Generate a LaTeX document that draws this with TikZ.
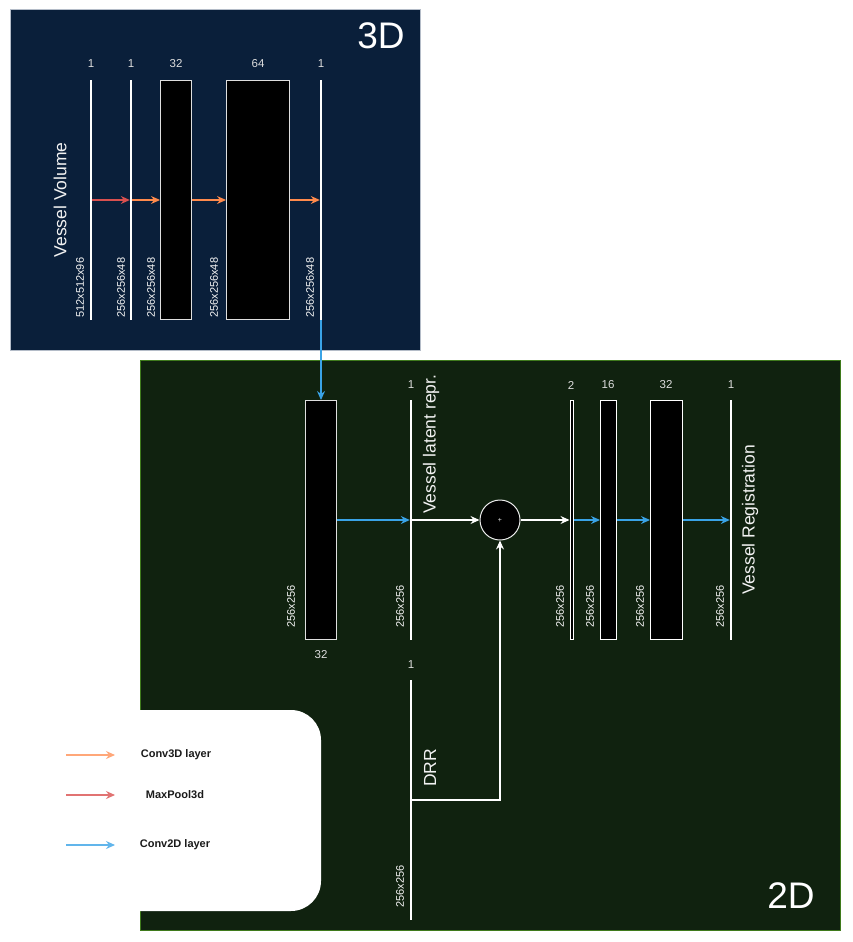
\documentclass[tikz,border=0pt]{standalone}
\usepackage{fontspec}
\setmainfont{Liberation Sans}
\usetikzlibrary{arrows.meta}
\definecolor{navy}{HTML}{0A1F3A}
\definecolor{forest}{HTML}{10220F}
\definecolor{forestedge}{HTML}{3F7A1C}
\definecolor{navyedge}{HTML}{B4BCC8}
\definecolor{convthree}{HTML}{FF8A4C}
\definecolor{pool}{HTML}{D9504F}
\definecolor{convtwo}{HTML}{3AA3E6}
\definecolor{numgray}{HTML}{DDDDDD}
\definecolor{legtext}{HTML}{1A1A1A}
\begin{document}
\begin{tikzpicture}[x=1pt,y=-1pt,
 thinlayer/.style={fill=white, draw=none, minimum width=2pt, minimum height=240pt, inner sep=0pt},
 blocklayer/.style={fill=black, draw=white!75!gray, line width=1pt, minimum height=239pt, inner sep=0pt},
 num/.style={font=\fontsize{11.5}{13}\selectfont, text=numgray, inner sep=0pt},
 dimlabel/.style={font=\fontsize{11}{13}\selectfont, text=white!92!gray, rotate=90, anchor=west, inner sep=0pt},
 titlelabel/.style={font=\fontsize{17.5}{20}\selectfont, text=white!90!gray, rotate=90, inner sep=0pt},
 biglabel/.style={font=\fontsize{37}{40}\selectfont, text=white, inner sep=0pt},
 legendlabel/.style={font=\fontsize{11}{13}\selectfont\bfseries, text=legtext, inner sep=0pt},
 tip/.style={-{Stealth[length=9pt,width=8pt,inset=3pt]}, line width=1.3pt},
]
\useasboundingbox (0,0) rectangle (852,942);
% panels
\draw[navyedge, fill=navy, line width=1pt] (10,10) rectangle (420,350);
\draw[forestedge, fill=forest, line width=1pt] (140,360) rectangle (840,930);
\fill[white, rounded corners=30pt] (20,710) rectangle (321,911);
\node[biglabel] (t3d) at (381,36) {3D};
\node[biglabel] (t2d) at (791,896) {2D};

% 3D encoder
\node[thinlayer] (l1) at (91,200) {};
\node[thinlayer] (l2) at (131,200) {};
\node[blocklayer, minimum width=31pt] (l3) at (176,200) {};
\node[blocklayer, minimum width=63pt] (l4) at (258,200) {};
\node[thinlayer] (l5) at (321,200) {};
\draw[tip, pool] (l1.east) -- (l2.west);
\draw[tip, convthree] (l2.east) -- (l3.west);
\draw[tip, convthree] (l3.east) -- (l4.west);
\draw[tip, convthree] (l4.east) -- (l5.west);
\node[num] (n1) at (91,64) {1};
\node[num] (n2) at (131,64) {1};
\node[num] (n3) at (176,64) {32};
\node[num] (n4) at (258,64) {64};
\node[num] (n5) at (321,64) {1};
\node[dimlabel] (d1) at (80,318) {512x512x96};
\node[dimlabel] (d2) at (121,318) {256x256x48};
\node[dimlabel] (d3) at (151,318) {256x256x48};
\node[dimlabel] (d4) at (214,318) {256x256x48};
\node[dimlabel] (d5) at (310,318) {256x256x48};
\node[titlelabel] (vv) at (60,200) {Vessel Volume};

% 2D part
\node[blocklayer, minimum width=31pt] (m1) at (321,520) {};
\node[thinlayer] (m2) at (411,520) {};
\node[circle, draw=white!85!gray, fill=black, line width=1pt, minimum size=40pt, inner sep=0pt,
      font=\fontsize{7}{8}\selectfont, text=white!80!gray] (sum) at (500,520) {+};
\node[fill=black, draw=white, line width=1pt, minimum width=3pt, minimum height=239pt, inner sep=0pt] (m3) at (571.5,520) {};
\node[blocklayer, draw=white, minimum width=16pt] (m4) at (608.5,520) {};
\node[blocklayer, draw=white, minimum width=32pt] (m5) at (666.5,520) {};
\node[thinlayer] (m6) at (731,520) {};
\node[thinlayer] (drr) at (411,800) {};

\draw[tip, convtwo] (l5.south) -- (m1.north);
\draw[tip, convtwo] (m1.east) -- (m2.west);
\draw[tip, white] (m2.east) -- (sum.west);
\draw[tip, white] (sum.east) -- (m3.west);
\draw[tip, convtwo] (m3.east) -- (m4.west);
\draw[tip, convtwo] (m4.east) -- (m5.west);
\draw[tip, convtwo] (m5.east) -- (m6.west);
\draw[tip, white] (drr.east) -| (sum.south);

\node[num] (k2) at (411,385) {1};
\node[num] (k3) at (571,385) {2};
\node[num] (k4) at (608,385) {16};
\node[num] (k5) at (666,385) {32};
\node[num] (k6) at (731,385) {1};
\node[num] (k7) at (321,655) {32};
\node[num] (k8) at (411,665) {1};
\node[dimlabel] (e1) at (291,628) {256x256};
\node[dimlabel] (e2) at (400,628) {256x256};
\node[dimlabel] (e3) at (560,628) {256x256};
\node[dimlabel] (e4) at (590,628) {256x256};
\node[dimlabel] (e5) at (640,628) {256x256};
\node[dimlabel] (e6) at (720,628) {256x256};
\node[dimlabel] (e7) at (400,908) {256x256};
\node[titlelabel, anchor=west] (vl) at (431,514) {Vessel latent repr.};
\node[titlelabel] (vr) at (750,520) {Vessel Registration};
\node[titlelabel] (dl) at (430,768) {DRR};

% legend
\coordinate (ga1) at (66,755); \coordinate (gb1) at (115,755);
\coordinate (ga2) at (66,795); \coordinate (gb2) at (115,795);
\coordinate (ga3) at (66,845); \coordinate (gb3) at (115,845);
\draw[tip, line width=1.1pt, convthree!75!white] (ga1) -- (gb1);
\draw[tip, line width=1.1pt, pool!80!white] (ga2) -- (gb2);
\draw[tip, line width=1.1pt, convtwo!80!white] (ga3) -- (gb3);
\node[legendlabel] (lg1) at (176,755) {Conv3D layer};
\node[legendlabel] (lg2) at (175,795) {MaxPool3d};
\node[legendlabel] (lg3) at (175,845) {Conv2D layer};
\end{tikzpicture}
\end{document}
